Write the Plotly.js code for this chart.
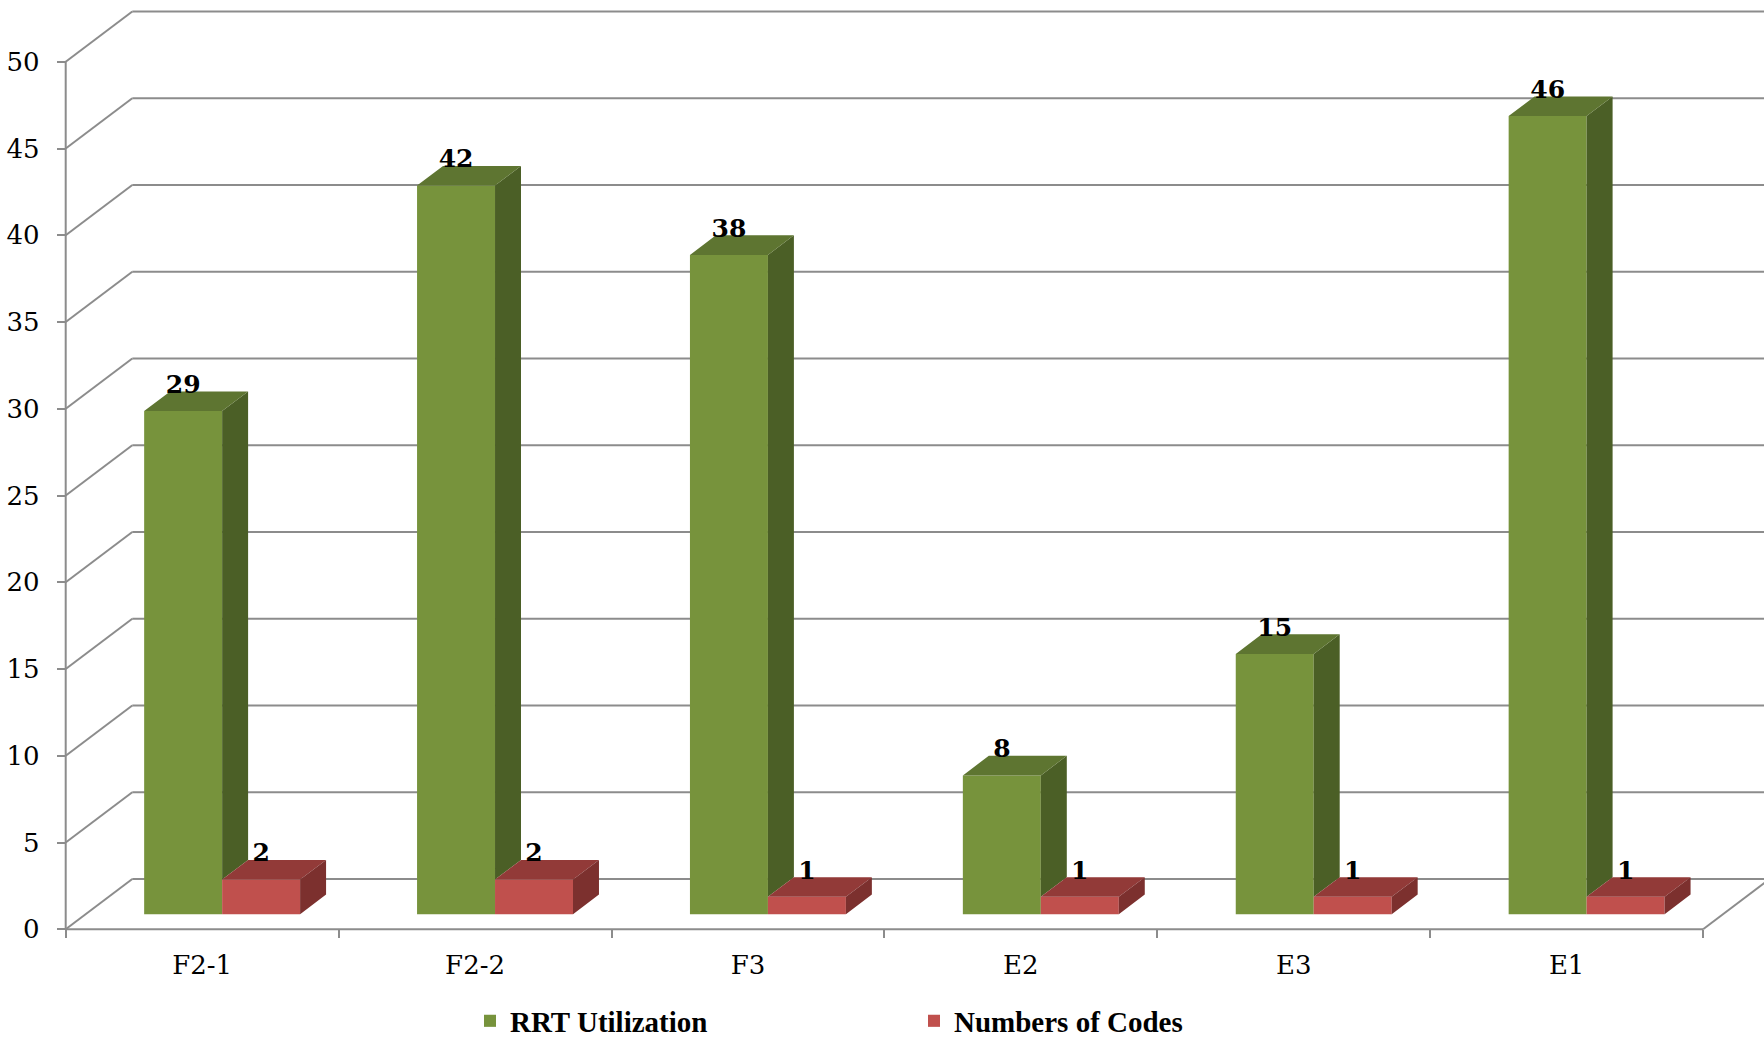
<!DOCTYPE html>
<html>
<head>
<meta charset="utf-8">
<script src="https://cdn.plot.ly/plotly-3.0.1.min.js"></script>
<style>html,body{margin:0;padding:0;background:#fff;}#chart{width:1764px;height:1041px;}</style>
</head>
<body>
<div id="chart"></div>
<script>
// ---- data ----
const categories = ['F2-1', 'F2-2', 'F3', 'E2', 'E3', 'E1'];
const rrtUtilization = [29, 42, 38, 8, 15, 46];
const numbersOfCodes = [2, 2, 1, 1, 1, 1];
const seriesNames = ['RRT Utilization', 'Numbers of Codes'];
const yTickValues = [0, 5, 10, 15, 20, 25, 30, 35, 40, 45, 50];

// ---- 3D look (styling / geometry) ----
const DX = 0.244;      // full depth offset in category units
const DY = 2.90;       // full depth offset in value units
const T1 = 0.30;       // front of bars, fraction of depth
const DEPTH = 0.39;    // depth of bars, fraction of depth
const W = 1 / 3.5;     // bar width (gap width 150%)
const N = categories.length;
const base = T1 * DY, shiftX = T1 * DX;
const sx = DEPTH * DX, sy = DEPTH * DY;
const LABEL_DROP = 0.45;

const green = {front: '#77933C', top: '#5E7531', side: '#4B5F26'};
const red = {front: '#C0504D', top: '#923A38', side: '#7C302E'};
const gridColor = '#8C8C8C';
const FONT = 'DejaVu Serif, Liberation Serif, serif';
const LEGEND_FONT = 'Liberation Serif, DejaVu Serif, serif';

const gCenters = categories.map((c, i) => i + 0.5 - W / 2 + shiftX);
const rCenters = categories.map((c, i) => i + 0.5 + W / 2 + shiftX);

function poly(fn) {
  const xs = [], ys = [];
  categories.forEach((c, i) => {
    const p = fn(i);
    if (!p) return;
    p.forEach(pt => { xs.push(pt[0]); ys.push(pt[1]); });
    xs.push(p[0][0]); ys.push(p[0][1]);
    xs.push(null); ys.push(null);
  });
  return {xs, ys};
}

const gTop = poly(i => {
  const l = gCenters[i] - W / 2, r = gCenters[i] + W / 2, t = rrtUtilization[i] + base;
  return [[l, t], [r, t], [r + sx, t + sy], [l + sx, t + sy]];
});
const gSide = poly(i => {
  const r = gCenters[i] + W / 2, t = rrtUtilization[i] + base;
  const b = base + Math.min(numbersOfCodes[i], rrtUtilization[i]);
  return [[r, b], [r + sx, b + sy], [r + sx, t + sy], [r, t]];
});
const rTop = poly(i => {
  const l = rCenters[i] - W / 2, r = rCenters[i] + W / 2, t = numbersOfCodes[i] + base;
  return [[l, t], [r, t], [r + sx, t + sy], [l + sx, t + sy]];
});
const rSide = poly(i => {
  const r = rCenters[i] + W / 2, t = numbersOfCodes[i] + base;
  return [[r, base], [r + sx, base + sy], [r + sx, t + sy], [r, t]];
});

function fillTrace(p, color) {
  return {type: 'scatter', mode: 'lines', x: p.xs, y: p.ys, fill: 'toself',
          fillcolor: color, line: {width: 0, color: color}, hoverinfo: 'skip', showlegend: false};
}
function labelTrace(xs, vals) {
  return {type: 'scatter', mode: 'text', x: xs, y: vals.map(v => v + base + sy - LABEL_DROP),
          text: vals.map(String), textposition: 'top center',
          textfont: {family: FONT, size: 25, color: '#000', weight: 'bold'},
          showlegend: false, hoverinfo: 'skip', cliponaxis: false};
}

const traces = [
  {type: 'bar', name: seriesNames[0], x: gCenters, y: rrtUtilization, base: base, width: W,
   marker: {color: green.front, line: {width: 0}}, hoverinfo: 'skip'},
  {type: 'bar', name: seriesNames[1], x: rCenters, y: numbersOfCodes, base: base, width: W,
   marker: {color: red.front, line: {width: 0}}, hoverinfo: 'skip'},
  fillTrace(gSide, green.side),
  fillTrace(gTop, green.top),
  fillTrace(rTop, red.top),
  fillTrace(rSide, red.side),
  labelTrace(gCenters, rrtUtilization),
  labelTrace(rCenters, numbersOfCodes)
];

// walls, floor and gridlines (below the traces)
const shapes = [];
const lineStyle = {color: gridColor, width: 2};
yTickValues.forEach(v => {
  shapes.push({type: 'line', xref: 'x', yref: 'y', layer: 'below', x0: DX, x1: N + DX + 1, y0: v + DY, y1: v + DY, line: lineStyle});
  shapes.push({type: 'line', xref: 'x', yref: 'y', layer: 'below', x0: 0, x1: DX, y0: v, y1: v + DY, line: lineStyle});
});
shapes.push({type: 'line', xref: 'x', yref: 'y', layer: 'below', x0: 0, x1: 0, y0: 0, y1: yTickValues[yTickValues.length - 1], line: lineStyle});
shapes.push({type: 'line', xref: 'x', yref: 'y', layer: 'below', x0: 0, x1: N, y0: 0, y1: 0, line: lineStyle});
shapes.push({type: 'line', xref: 'x', yref: 'y', layer: 'below', x0: N, x1: N + DX, y0: 0, y1: DY, line: lineStyle});

const ML = 40;
const plotW = 1764 - ML, plotH = 1041;
const pxPerCat = 272.9, x0px = 65.7, pxPerUnit = 17.35, y0px = 929.3;

const layout = {
  width: 1764, height: 1041,
  margin: {l: ML, r: 0, t: 0, b: 0, autoexpand: false},
  paper_bgcolor: '#fff', plot_bgcolor: 'rgba(0,0,0,0)',
  barmode: 'overlay',
  font: {family: FONT, color: '#000'},
  showlegend: true,
  legend: {orientation: 'h', x: (470 - ML) / plotW, xanchor: 'left', y: (plotH - 1021) / plotH, yanchor: 'middle',
           font: {family: LEGEND_FONT, size: 29, weight: 'bold'}, entrywidth: 399, entrywidthmode: 'pixels',
           bgcolor: 'rgba(0,0,0,0)', traceorder: 'normal', borderwidth: 0},
  xaxis: {range: [(ML - x0px) / pxPerCat, (1764 - x0px) / pxPerCat], anchor: 'free', position: (plotH - y0px) / plotH,
          tickmode: 'array', tickvals: categories.map((c, i) => i + 0.5), ticktext: categories,
          ticks: '', showgrid: false, zeroline: false, showline: false, ticklabelstandoff: 18,
          tickfont: {family: FONT, size: 26, color: '#000'},
          minor: {tickmode: 'array', tickvals: categories.map((c, i) => i).concat([N]), ticks: 'outside', ticklen: 8, tickwidth: 2, tickcolor: gridColor, showgrid: false},
          fixedrange: true},
  yaxis: {range: [-(plotH - y0px) / pxPerUnit, y0px / pxPerUnit], anchor: 'free', position: (x0px - ML) / plotW,
          tickmode: 'array', tickvals: yTickValues, ticks: 'outside', ticklen: 9, tickwidth: 2, tickcolor: gridColor,
          showgrid: false, zeroline: false, showline: false, ticklabelstandoff: 12,
          tickfont: {family: FONT, size: 26, color: '#000'}, fixedrange: true},
  shapes: shapes
};

Plotly.newPlot('chart', traces, layout, {displayModeBar: false, staticPlot: true});
</script>
</body>
</html>
